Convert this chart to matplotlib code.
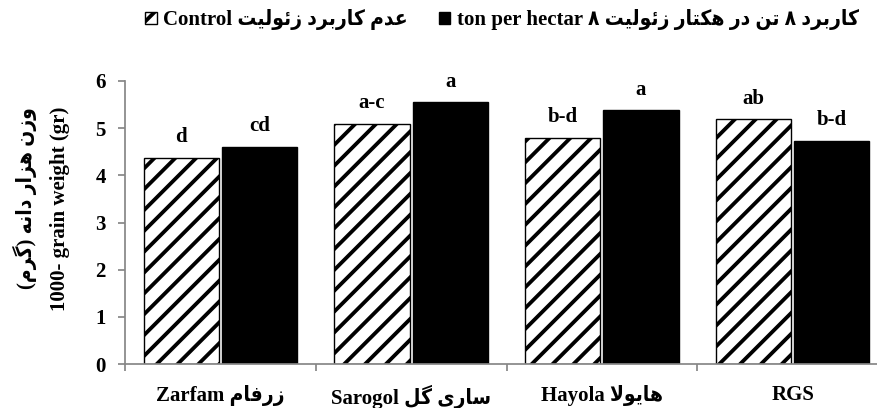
import matplotlib
matplotlib.use("Agg")
import matplotlib.pyplot as plt
from matplotlib.patches import Patch
from matplotlib.font_manager import FontProperties

# ---------------- data ----------------
categories_en = ["Zarfam", "Sarogol", "Hayola", "RGS"]
categories_fa = ["زرفام", "ساری گل", "هایولا", ""]
control_vals = [4.37, 5.09, 4.79, 5.19]
zeolite_vals = [4.60, 5.55, 5.38, 4.73]
control_letters = ["d", "a-c", "b-d", "ab"]
zeolite_letters = ["cd", "a", "a", "b-d"]
yticks = [0, 1, 2, 3, 4, 5, 6]
legend_control_en = "Control"
legend_control_fa = "عدم کاربرد زئولیت"
legend_zeo_en = "ton per hectar ۸"
legend_zeo_fa = "کاربرد ۸ تن در هکتار زئولیت"
ylabel_fa = "وزن هزار دانه (گرم)"
ylabel_en = "1000- grain weight (gr)"

# ------------- minimal Persian shaping (presentation forms, visual order) -------------
FORMS = {  # isolated, final, initial, medial
    "ا": (0xFE8D, 0xFE8E, None, None),
    "ب": (0xFE8F, 0xFE90, 0xFE91, 0xFE92),
    "ت": (0xFE95, 0xFE96, 0xFE97, 0xFE98),
    "د": (0xFEA9, 0xFEAA, None, None),
    "ر": (0xFEAD, 0xFEAE, None, None),
    "ز": (0xFEAF, 0xFEB0, None, None),
    "س": (0xFEB1, 0xFEB2, 0xFEB3, 0xFEB4),
    "ع": (0xFEC9, 0xFECA, 0xFECB, 0xFECC),
    "ف": (0xFED1, 0xFED2, 0xFED3, 0xFED4),
    "ل": (0xFEDD, 0xFEDE, 0xFEDF, 0xFEE0),
    "م": (0xFEE1, 0xFEE2, 0xFEE3, 0xFEE4),
    "ن": (0xFEE5, 0xFEE6, 0xFEE7, 0xFEE8),
    "ه": (0xFEE9, 0xFEEA, 0xFEEB, 0xFEEC),
    "و": (0xFEED, 0xFEEE, None, None),
    "ئ": (0xFE89, 0xFE8A, 0xFE8B, 0xFE8C),
    "ک": (0xFB8E, 0xFB8F, 0xFB90, 0xFB91),
    "گ": (0xFB92, 0xFB93, 0xFB94, 0xFB95),
    "ی": (0xFBFC, 0xFBFD, 0xFBFE, 0xFBFF),
}


def _dual(c):
    return c in FORMS and FORMS[c][2] is not None


def rtl(text):
    out = []
    i = 0
    n = len(text)
    while i < n:
        c = text[i]
        if c not in FORMS:
            out.append(c)
            i += 1
            continue
        prev = text[i - 1] if i > 0 else ""
        jp = _dual(prev)
        if c == "ل" and i + 1 < n and text[i + 1] == "ا":
            out.append(chr(0xFEFC if jp else 0xFEFB))
            i += 2
            continue
        nxt = text[i + 1] if i + 1 < n else ""
        jn = _dual(c) and nxt in FORMS
        iso, fin, ini, med = FORMS[c]
        if jp and jn:
            g = med
        elif jp:
            g = fin
        elif jn:
            g = ini
        else:
            g = iso
        out.append(chr(g))
        i += 1
    vis = "".join(reversed(out))
    vis = vis.translate(str.maketrans("()", ")("))
    return vis


# ---------------- figure ----------------
DPI = 125
fig = plt.figure(figsize=(877 / DPI, 408 / DPI), dpi=DPI)
FAM = ["Liberation Serif", "DejaVu Sans"]
FS = 12
plt.rcParams["hatch.linewidth"] = 2.2


def fp(size=FS):
    return FontProperties(family=FAM, weight="bold", size=size,
                          stretch="condensed")


ax = fig.add_axes([125 / 877, 44 / 408, 763 / 877, 283 / 408])

x = list(range(len(categories_en)))
w = 0.395
off = 0.205
xc = [v - off for v in x]
xz = [v + off for v in x]
b1 = ax.bar(xc, control_vals, width=w, color="white", edgecolor="black",
            hatch="//", linewidth=0.8)
b2 = ax.bar(xz, zeolite_vals, width=w, color="black", edgecolor="black",
            linewidth=0.8)

for xs, vals, labs in ((xc, control_vals, control_letters),
                       (xz, zeolite_vals, zeolite_letters)):
    for xi, v, t in zip(xs, vals, labs):
        ax.annotate(t, (xi, v), xytext=(0, 9), textcoords="offset points",
                    ha="center", va="baseline", fontproperties=fp())

ax.set_xlim(-0.5, len(categories_en) - 0.5)
ax.set_ylim(0, 6)
ax.set_yticks(yticks)
ax.set_yticklabels([str(t) for t in yticks], fontproperties=fp())

ax.set_xticks([v - 0.5 for v in range(len(categories_en) + 1)])
ax.set_xticklabels([])
ax.set_xticks(x, minor=True)
labels = []
for en, fa in zip(categories_en, categories_fa):
    labels.append(en + (" " + rtl(fa) if fa else ""))
ax.set_xticklabels(labels, minor=True, fontproperties=fp())
ax.tick_params(axis="x", which="minor", length=0, pad=12)
ax.tick_params(axis="x", which="major", length=4, color="#868686", width=1)
ax.tick_params(axis="y", length=4, color="#868686", width=1, pad=7)

for s in ("top", "right"):
    ax.spines[s].set_visible(False)
for s in ("left", "bottom"):
    ax.spines[s].set_color("#868686")
    ax.spines[s].set_linewidth(1)

# y label (two lines)
fig.text(25 / 877, 1 - 198 / 408, rtl(ylabel_fa), rotation=90, ha="center",
         va="center", fontproperties=fp())
fig.text(60 / 877, 1 - 209 / 408, ylabel_en, rotation=90, ha="center",
         va="center", fontproperties=fp())

# legend
h1 = Patch(facecolor="white", edgecolor="black", hatch="//", linewidth=0.8)
h2 = Patch(facecolor="black", edgecolor="black", linewidth=0.8)
fig.legend([h1, h2],
           [legend_control_en + " " + rtl(legend_control_fa),
            legend_zeo_en + " " + rtl(legend_zeo_fa)],
           loc="center", bbox_to_anchor=(502 / 877, 1 - 20 / 408), ncol=2,
           frameon=False, handlelength=0.55, handleheight=0.45,
           handletextpad=0.3, columnspacing=1.5, borderpad=0,
           prop=fp())

fig.savefig("out.png", dpi=DPI)
